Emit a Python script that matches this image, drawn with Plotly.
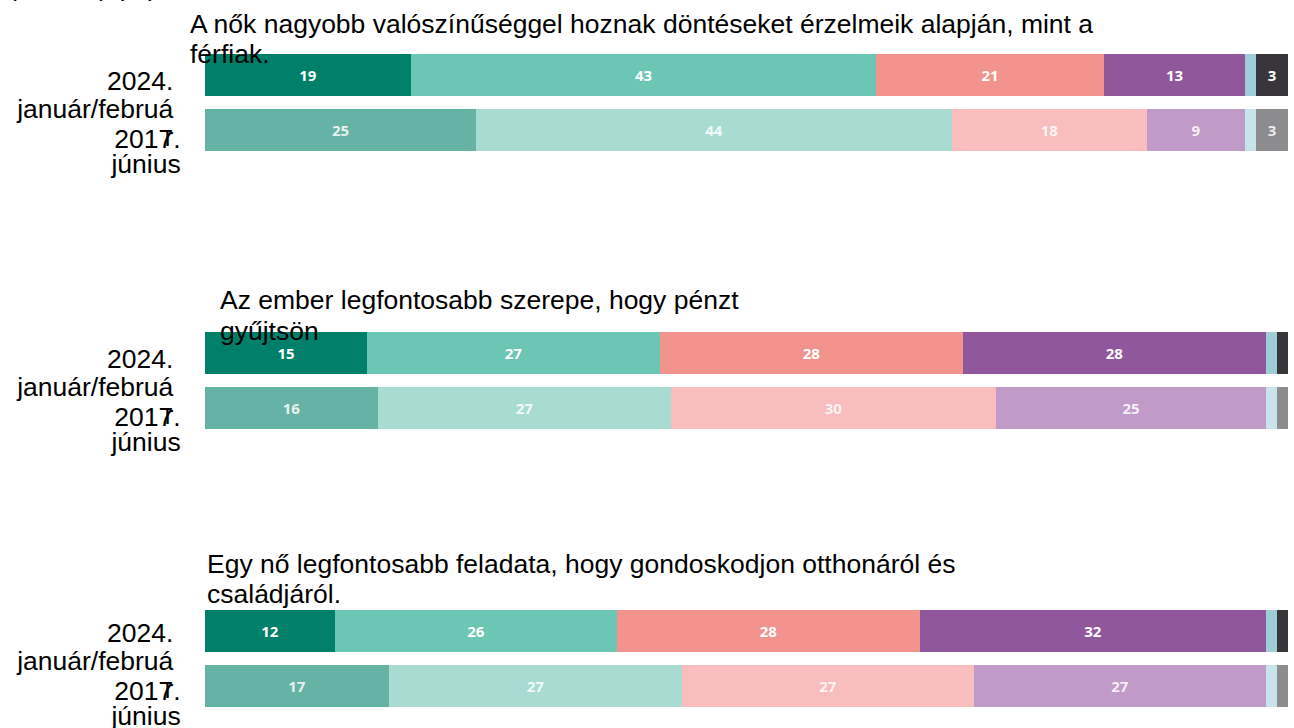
import plotly.graph_objects as go
from plotly.subplots import make_subplots

# állítások (két sorba tördelve, ahogy a képen)
title_lines = [
    ["A nők nagyobb valószínűséggel hoznak döntéseket érzelmeik alapján, mint a", "férfiak."],
    ["Az ember legfontosabb szerepe, hogy pénzt", "gyűjtsön"],
    ["Egy nő legfontosabb feladata, hogy gondoskodjon otthonáról és", "családjáról."],
]
header = "(összes) (%)"

# időszakok tördelt címkéi
period_2024_lines = ["2024.", "január/februá", "r"]
period_2017_lines = ["2017.", "június"]

answers = ["Teljesen egyetért", "Inkább egyetért", "Inkább nem ért egyet",
           "Egyáltalán nem ért egyet", "Nem tudja", "Nem válaszolt"]

values_2024 = [
    [19, 43, 21, 13, 1, 3],
    [15, 27, 28, 28, 1, 1],
    [12, 26, 28, 32, 1, 1],
]
values_2017 = [
    [25, 44, 18, 9, 1, 3],
    [16, 27, 30, 25, 1, 1],
    [17, 27, 27, 27, 1, 1],
]

colors_2024 = ["#00806a", "#6cc6b4", "#f3938e", "#91579d", "#9fccd6", "#38363a"]
colors_2017 = ["#66b2a5", "#a8dcd3", "#f8bdbc", "#c09bc8", "#c6e4e9", "#8c8b8d"]

W, H = 1294, 728
L, R = 205, 6
FS = 26.5
FONT = "Liberation Sans"

# pixel geometria (első panelhez képest)
PANEL_STEP = 278
ROW0 = 75          # 2024-es sáv közepe
ROW_GAP = 55       # két sáv közti távolság
BAR_H = 42
DOM_TOP, DOM_BOT = 40, 170
tick_px_2024 = [81, 108.5, 137]
tick_px_2017 = [139, 164]
tick_shift = [0, 0, -4]
title_base = [(33, 63), (309, 340), (573, 603)]
title_x = [188, 218, 205]


def px_to_val(px):
    return (px - ROW0) / ROW_GAP


fig = make_subplots(rows=3, cols=1)

for i in range(3):
    for j, ans in enumerate(answers):
        v = [values_2024[i][j], values_2017[i][j]]
        fig.add_trace(go.Bar(
            x=v,
            y=[0, 1],
            orientation="h",
            name=ans,
            width=BAR_H / ROW_GAP,
            marker=dict(color=[colors_2024[j], colors_2017[j]], line=dict(width=0)),
            text=[str(a) if a >= 3 else "" for a in v],
            textposition="inside",
            insidetextanchor="middle",
            textfont=dict(family="Open Sans", size=15, weight="bold",
                          color=["white", "rgba(255,255,255,0.85)"]),
            showlegend=False,
            hoverinfo="x+name",
        ), row=i + 1, col=1)

    top = DOM_TOP + PANEL_STEP * i
    bot = DOM_BOT + PANEL_STEP * i
    yname = "yaxis" if i == 0 else f"yaxis{i + 1}"
    xname = "xaxis" if i == 0 else f"xaxis{i + 1}"
    fig.layout[yname].update(
        domain=[1 - bot / H, 1 - top / H],
        range=[px_to_val(DOM_BOT), px_to_val(DOM_TOP)],
        tickmode="array",
        tickvals=[px_to_val(p + tick_shift[i]) for p in tick_px_2024 + tick_px_2017],
        ticktext=[t + "\u00a0" for t in period_2024_lines] + period_2017_lines,
        ticks="outside", ticklen=18, tickcolor="rgba(0,0,0,0)",
        tickfont=dict(family=FONT, size=FS, color="black"),
        ticklabeloverflow="allow",
        showgrid=False, zeroline=False, showline=False,
        automargin=False,
    )
    fig.layout[xname].update(range=[0, 100], visible=False, automargin=False)

    for k, line in enumerate(title_lines[i]):
        fig.add_annotation(
            text=line, xref="paper", yref="paper",
            x=(title_x[i] - L) / (W - L - R),
            y=1 - (title_base[i][k] - 0.35 * FS) / H,
            xanchor="left", yanchor="middle", showarrow=False,
            font=dict(family=FONT, size=FS, color="black"),
        )

fig.add_annotation(
    text=header, xref="paper", yref="paper",
    x=(6 - L) / (W - L - R), y=1 - (-4 - 0.35 * FS) / H,
    xanchor="left", yanchor="middle", showarrow=False,
    font=dict(family=FONT, size=FS, color="black"),
)

fig.update_layout(
    width=W, height=H,
    barmode="stack",
    bargap=0,
    margin=dict(l=L, r=R, t=0, b=0),
    paper_bgcolor="white",
    plot_bgcolor="white",
    uniformtext=dict(minsize=15, mode="show"),
)

fig.write_html("out.html", config={"displayModeBar": False},
               post_script="document.body.style.margin='0';")
